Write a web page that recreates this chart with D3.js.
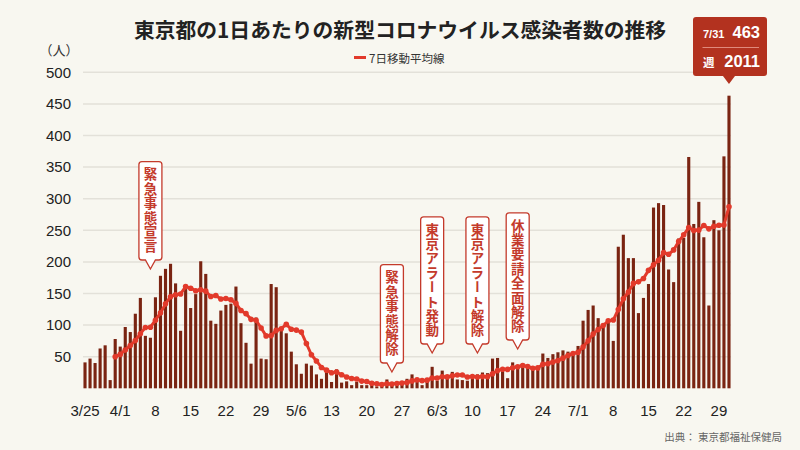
<!DOCTYPE html>
<html><head><meta charset="utf-8">
<script src="https://cdn.jsdelivr.net/npm/d3@7"></script>
<style>
html,body{margin:0;padding:0;background:#f8f7f0;}
svg{display:block;}
</style></head><body>
<svg id="chart" width="800" height="450"></svg>
<script>
// ---- data ----
const startDate = new Date(2020, 2, 25);
const endDate = new Date(2020, 7, 1); // exclusive
const cases = [
  41,47,40,63,68,13,78,66,97,89,
  118,143,83,80,144,178,189,197,166,91,
  161,127,149,201,181,107,102,123,132,134,
  161,103,72,39,112,47,46,165,160,91,
  87,58,38,23,39,36,22,15,28,10,
  30,9,11,5,10,5,5,11,3,2,
  14,8,10,11,15,22,14,5,13,34,
  12,28,20,26,14,13,12,18,22,25,
  24,47,48,27,16,41,35,39,35,29,
  31,55,48,54,57,60,58,54,67,107,
  124,131,111,102,106,75,224,243,206,206,
  119,143,165,286,293,290,188,168,237,238,
  366,260,295,239,131,266,250,367,463
];
const movingAvg = [
  null,null,null,null,null,null,
  50.0,53.6,60.7,67.7,75.6,86.3,96.3,96.6,107.7,119.3,
  133.6,144.9,148.1,149.3,160.9,158.4,154.3,156.0,153.7,145.3,
  146.9,141.4,142.1,140.0,134.3,123.1,118.1,109.1,107.6,95.4,
  82.9,83.4,91.6,94.3,101.1,93.4,92.1,88.9,70.9,53.1,
  43.3,33.0,28.7,24.7,25.7,21.4,17.9,15.4,14.7,11.4,
  10.7,8.0,7.1,5.9,7.1,6.9,7.6,8.4,9.0,11.7,
  13.4,12.1,12.9,16.3,16.4,18.3,18.0,19.7,21.0,21.0,
  17.9,18.7,17.9,18.6,18.3,23.0,28.0,30.1,29.9,32.6,
  34.0,36.1,34.4,31.7,32.3,37.9,38.9,41.6,44.1,47.7,
  51.9,55.1,56.9,65.3,75.3,85.9,93.1,99.4,106.9,108.0,
  124.7,141.7,152.4,166.0,168.4,173.7,186.6,195.4,202.6,214.6,
  212.0,219.0,232.4,242.9,254.3,249.6,250.3,257.6,252.3,256.4,
  258.1,258.3,287.3
];
const xTickLabels = ["3/25","4/1","8","15","22","29","5/6","13","20","27","6/3","10","17","24","7/1","8","15","22","29"];
const yTicks = [50,100,150,200,250,300,350,400,450,500];
const eventLabels = ["緊急事態宣言","緊急事態解除","東京アラート発動","東京アラート解除","休業要請全面解除"];
const eventDates = [new Date(2020,3,7), new Date(2020,4,25), new Date(2020,5,2), new Date(2020,5,11), new Date(2020,5,19)];
const titleText = "東京都の1日あたりの新型コロナウイルス感染者数の推移";
const legendText = "7日移動平均線";
const unitText = "（人）";
const sourceText = "出典： 東京都福祉保健局";
const badgeDateLabel = "7/31";
const badgeWeekLabel = "週";

// ---- layout ----
const eventTipY = [269, 372, 353, 353, 349];
const CJK = "'Noto Sans CJK JP','Noto Sans',sans-serif";
const NUM = "'Liberation Sans',Arial,sans-serif";
const barColor = "#7a2412", lineColor = "#e23a2b", calloutRed = "#c43a2b", badgeColor = "#b3321f";

const dates = d3.timeDay.range(startDate, endDate);
const data = dates.map((d,i)=>({date:d, key:+d, v:cases[i], ma:movingAvg[i]}));

const svg = d3.select("#chart");
svg.append("rect").attr("width",800).attr("height",450).attr("fill","#f8f7f0");

const x = d3.scaleBand().domain(data.map(d=>d.key)).range([82.5, 731.5]).paddingInner(0.38).paddingOuter(0.19);
const y = d3.scaleLinear().domain([0,500]).range([388.3, 72.3]);
const cx = k => x(k) + x.bandwidth()/2;

// grid
svg.append("g").selectAll("line").data(yTicks).join("line")
  .attr("x1",83).attr("x2",731).attr("y1",d=>y(d)).attr("y2",d=>y(d))
  .attr("stroke","#e3e1d9").attr("stroke-width",1.5);

// y axis labels
const yAxis = d3.axisLeft(y).tickValues(yTicks).tickSize(0).tickPadding(0);
const gy = svg.append("g").attr("transform","translate(71,0)").call(yAxis);
gy.select(".domain").remove();
gy.selectAll("text").attr("font-family",NUM).attr("font-size",15).attr("fill","#222");

// unit label
svg.append("text").attr("x",59).attr("y",55).attr("text-anchor","middle")
  .attr("font-family",CJK).attr("font-size",13).attr("fill","#333").text(unitText);

// bars
svg.append("g").selectAll("rect").data(data).join("rect")
  .attr("x",d=>x(d.key)).attr("width",x.bandwidth())
  .attr("y",d=>y(d.v)).attr("height",d=>y(0)-y(d.v))
  .attr("fill",barColor);

// x axis
const tickKeys = data.filter((d,i)=>i%7===0).map(d=>d.key);
const xAxis = d3.axisBottom(x).tickValues(tickKeys).tickSize(0).tickPadding(0)
  .tickFormat((k,i)=>xTickLabels[i]);
const gx = svg.append("g").attr("transform","translate(0,405)").call(xAxis);
gx.select(".domain").remove();
gx.selectAll("text").attr("font-family",NUM).attr("font-size",15).attr("fill","#222");

// moving average line
const maData = data.filter(d=>d.ma!=null);
svg.append("path").datum(maData)
  .attr("d", d3.line().x(d=>cx(d.key)).y(d=>y(d.ma)))
  .attr("fill","none").attr("stroke",lineColor).attr("stroke-width",3).attr("stroke-linejoin","round");
svg.append("g").selectAll("circle").data(maData).join("circle")
  .attr("cx",d=>cx(d.key)).attr("cy",d=>y(d.ma)).attr("r",2.8).attr("fill",lineColor);

// callouts
const fs = 13.5, pitch = 14.4, pad = 6, boxW = 23, tipH = 9, rr = 3;
eventLabels.forEach((lab,k)=>{
  const px = cx(+eventDates[k]);
  const tipY = eventTipY[k];
  const n = Array.from(lab).length;
  const bottom = tipY - tipH;
  const top = bottom - (n*pitch + 2*pad);
  const l = px - boxW/2, r = px + boxW/2;
  const g = svg.append("g");
  g.append("path")
    .attr("d",`M${l+rr},${top} H${r-rr} Q${r},${top} ${r},${top+rr} V${bottom-rr} Q${r},${bottom} ${r-rr},${bottom} H${px+5} L${px},${tipY} L${px-5},${bottom} H${l+rr} Q${l},${bottom} ${l},${bottom-rr} V${top+rr} Q${l},${top} ${l+rr},${top} Z`)
    .attr("fill","#ffffff").attr("stroke",calloutRed).attr("stroke-width",1.3);
  g.append("text")
    .attr("x",px).attr("y",top + pad)
    .style("writing-mode","vertical-rl")
    .style("letter-spacing",(pitch-fs)+"px")
    .attr("font-family",CJK).attr("font-weight",700).attr("font-size",fs)
    .attr("fill",calloutRed).text(lab);
});

// title
svg.append("text").attr("x",400).attr("y",38).attr("text-anchor","middle")
  .attr("font-family",CJK).attr("font-weight",700).attr("font-size",20.8).attr("fill","#222")
  .text(titleText);

// legend
svg.append("line").attr("x1",354).attr("x2",366).attr("y1",57.5).attr("y2",57.5)
  .attr("stroke",lineColor).attr("stroke-width",3);
svg.append("text").attr("x",369).attr("y",57.5).attr("dominant-baseline","central")
  .attr("font-family",CJK).attr("font-size",11.5).attr("fill","#333").text(legendText);

// badge
const last = data[data.length-1];
const weekSum = d3.sum(cases.slice(-7));
const bx = cx(last.key);
const bl = 693, br = 767, bt = 17, bb = 76, btip = 84;
svg.append("path")
  .attr("d",`M${bl+rr},${bt} H${br-rr} Q${br},${bt} ${br},${bt+rr} V${bb-rr} Q${br},${bb} ${br-rr},${bb} H${bx+6} L${bx},${btip} L${bx-6},${bb} H${bl+rr} Q${bl},${bb} ${bl},${bb-rr} V${bt+rr} Q${bl},${bt} ${bl+rr},${bt} Z`)
  .attr("fill",badgeColor);
svg.append("line").attr("x1",702.5).attr("x2",759).attr("y1",47.5).attr("y2",47.5)
  .attr("stroke","#e08a7c").attr("stroke-width",1);
svg.append("text").attr("x",703).attr("y",37.5).attr("font-family",NUM).attr("font-weight",700)
  .attr("font-size",11).attr("fill","#fff").text(badgeDateLabel);
svg.append("text").attr("x",760).attr("y",38).attr("text-anchor","end").attr("font-family",NUM).attr("font-weight",700)
  .attr("font-size",16.5).attr("fill","#fff").text(last.v);
svg.append("text").attr("x",703).attr("y",66.5).attr("font-family",CJK).attr("font-weight",700)
  .attr("font-size",11.5).attr("fill","#fff").text(badgeWeekLabel);
svg.append("text").attr("x",760).attr("y",67).attr("text-anchor","end").attr("font-family",NUM).attr("font-weight",700)
  .attr("font-size",16.5).attr("fill","#fff").text(weekSum);

// source
svg.append("text").attr("x",782).attr("y",441).attr("text-anchor","end")
  .attr("font-family",CJK).attr("font-size",10.5).attr("fill","#666").text(sourceText);
</script>
</body></html>
